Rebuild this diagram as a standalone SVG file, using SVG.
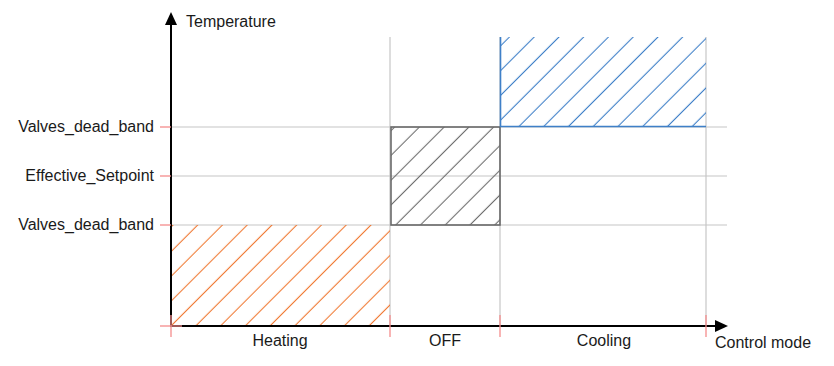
<svg xmlns="http://www.w3.org/2000/svg" width="834" height="366" viewBox="0 0 834 366">
<style>
  .grid{stroke:#c6c6c6;stroke-width:1.2;fill:none}
  .tick{stroke:#f48c8c;stroke-width:1.3;fill:none}
  .axis{stroke:#000;stroke-width:2;fill:none}
  .lbl{font-family:"Liberation Sans",Arial,sans-serif;font-size:16px;fill:#1a1a1a}
</style>
<defs>
  <pattern id="hOrange" patternUnits="userSpaceOnUse" width="17.5" height="17.5" patternTransform="rotate(45)">
    <line x1="1.4" y1="-1" x2="1.4" y2="19" stroke="#f07a35" stroke-width="1.1"/>
  </pattern>
  <pattern id="hGray" patternUnits="userSpaceOnUse" width="17.5" height="17.5" patternTransform="rotate(45)">
    <line x1="1.4" y1="-1" x2="1.4" y2="19" stroke="#6e6e6e" stroke-width="1.1"/>
  </pattern>
  <pattern id="hBlue" patternUnits="userSpaceOnUse" width="17.5" height="17.5" patternTransform="rotate(45)">
    <line x1="1.4" y1="-1" x2="1.4" y2="19" stroke="#3f80c8" stroke-width="1.1"/>
  </pattern>
</defs>
<rect width="834" height="366" fill="#fff"/>

<g id="grid">
  <line class="grid" x1="171" y1="127" x2="727" y2="127"/>
  <line class="grid" x1="171" y1="176" x2="727" y2="176"/>
  <line class="grid" x1="171" y1="225" x2="727" y2="225"/>
  <line class="grid" x1="390" y1="37" x2="390" y2="326"/>
  <line class="grid" x1="500" y1="37" x2="500" y2="326"/>
  <line class="grid" x1="706" y1="37" x2="706" y2="326"/>
</g>

<g id="heating">
  <rect x="171" y="225" width="219" height="101" fill="url(#hOrange)"/>
</g>
<g id="off">
  <rect x="391" y="127" width="109" height="98" fill="url(#hGray)" stroke="#6a6a6a" stroke-width="1.6"/>
</g>
<g id="cooling">
  <rect x="500" y="37" width="206" height="90" fill="url(#hBlue)"/>
  <polyline points="500.5,37 500.5,126.5 706,126.5" fill="none" stroke="#3f80c8" stroke-width="1.6"/>
</g>

<g id="connectors">
  <line class="axis" x1="171" y1="327" x2="171" y2="24"/>
  <polygon points="171,12 165,25 177,25" fill="#000"/>
  <line class="axis" x1="170" y1="326" x2="716" y2="326"/>
  <polygon points="728,326 715,320 715,332" fill="#000"/>
</g>

<g id="ticks">
  <line class="tick" x1="160" y1="127" x2="171" y2="127"/>
  <line class="tick" x1="160" y1="176" x2="171" y2="176"/>
  <line class="tick" x1="160" y1="225" x2="171" y2="225"/>
  <line class="tick" x1="160" y1="326" x2="182" y2="326"/>
  <line class="tick" x1="171" y1="315" x2="171" y2="337"/>
  <line class="tick" x1="390" y1="315" x2="390" y2="337"/>
  <line class="tick" x1="500" y1="315" x2="500" y2="337"/>
  <line class="tick" x1="706" y1="315" x2="706" y2="337"/>
</g>

<g id="labels">
  <text class="lbl" x="186" y="27">Temperature</text>
  <text class="lbl" x="154" y="132" text-anchor="end">Valves_dead_band</text>
  <text class="lbl" x="154" y="181" text-anchor="end">Effective_Setpoint</text>
  <text class="lbl" x="154" y="230" text-anchor="end">Valves_dead_band</text>
  <text class="lbl" x="280" y="346" text-anchor="middle">Heating</text>
  <text class="lbl" x="445" y="346" text-anchor="middle">OFF</text>
  <text class="lbl" x="604" y="346" text-anchor="middle">Cooling</text>
  <text class="lbl" x="715" y="348">Control mode</text>
</g>
</svg>
